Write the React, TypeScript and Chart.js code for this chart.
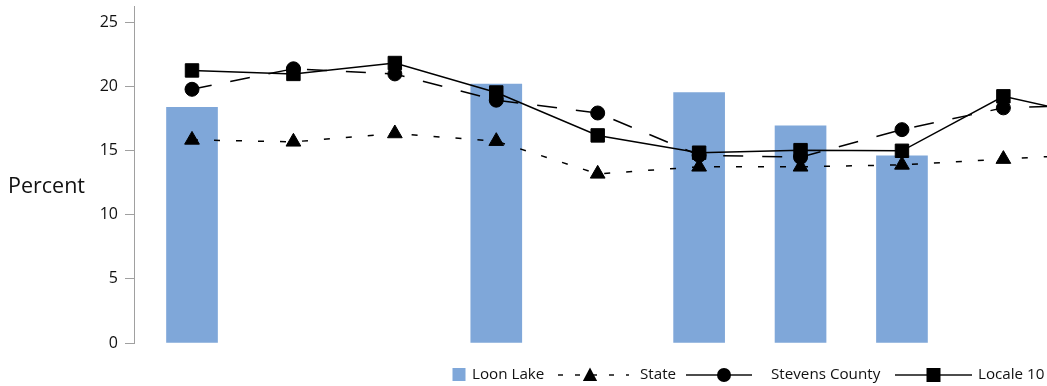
import React, { useEffect, useRef } from 'react';
import { Chart, registerables } from 'chart.js';

Chart.register(...registerables);

// Category positions (the reference shows no category labels)
const categories = ['1', '2', '3', '4', '5', '6', '7', '8', '9', '10'];
const seriesNames = ['Loon Lake', 'State', 'Stevens County', 'Locale 10'];
const loonLake = [18.4, null, null, 20.2, null, 19.55, 16.95, 14.6, null, null];
const state = [15.85, 15.7, 16.35, 15.75, 13.2, 13.75, 13.75, 13.9, 14.35, 14.8];
const stevensCounty = [19.8, 21.4, 21.0, 18.95, 17.95, 14.65, 14.5, 16.65, 18.35, 18.6];
const locale10 = [21.27, 21.0, 21.85, 19.55, 16.2, 14.85, 15.05, 15.0, 19.25, 17.5];
const yTicks = [0, 5, 10, 15, 20, 25];

const BAR_COLOR = '#7FA7D9';
const AXIS_COLOR = '#a0a0a0';
const FONT = '"Open Sans", "Noto Sans", sans-serif';

function toPoints(arr: (number | null)[]) {
  return categories.map((_, i) => ({ x: i, y: arr[i] }));
}

function drawMarker(ctx: CanvasRenderingContext2D, style: string, x: number, y: number, r: number) {
  ctx.beginPath();
  if (style === 'circle') {
    ctx.arc(x, y, r, 0, Math.PI * 2);
  } else if (style === 'rect') {
    ctx.rect(x - r, y - r, 2 * r, 2 * r);
  } else {
    ctx.moveTo(x, y - r);
    ctx.lineTo(x + r * 0.95, y + r * 0.8);
    ctx.lineTo(x - r * 0.95, y + r * 0.8);
    ctx.closePath();
  }
  ctx.fill();
}

const overlayPlugin = {
  id: 'overlay',
  afterDraw(chart: any) {
    const ctx: CanvasRenderingContext2D = chart.ctx;
    ctx.save();
    ctx.fillStyle = '#111';
    ctx.textAlign = 'left';
    ctx.textBaseline = 'middle';
    ctx.font = `21.5px ${FONT}`;
    ctx.fillText('Percent', 8, 187);

    const y = 375;
    ctx.font = `15.2px ${FONT}`;
    // Loon Lake
    ctx.fillStyle = BAR_COLOR;
    ctx.fillRect(452.5, 368, 13, 13);
    ctx.fillStyle = '#111';
    ctx.fillText(seriesNames[0], 472, y);

    // State
    ctx.strokeStyle = '#111';
    ctx.lineWidth = 1.5;
    ctx.setLineDash([5, 12]);
    ctx.beginPath();
    ctx.moveTo(558, y);
    ctx.lineTo(629, y);
    ctx.stroke();
    ctx.setLineDash([]);
    ctx.fillStyle = '#000';
    drawMarker(ctx, 'triangle', 590, y, 7.5);
    ctx.fillStyle = '#111';
    ctx.fillText(seriesNames[1], 640, y);

    // Stevens County
    ctx.beginPath();
    ctx.moveTo(686, y);
    ctx.lineTo(752, y);
    ctx.stroke();
    ctx.fillStyle = '#000';
    drawMarker(ctx, 'circle', 724, y, 7);
    ctx.fillStyle = '#111';
    ctx.fillText(seriesNames[2], 771, y);

    // Locale 10
    ctx.beginPath();
    ctx.moveTo(895, y);
    ctx.lineTo(972, y);
    ctx.stroke();
    ctx.fillStyle = '#000';
    drawMarker(ctx, 'rect', 933.5, y, 7);
    ctx.fillStyle = '#111';
    ctx.fillText(seriesNames[3], 978, y);
    ctx.restore();
  },
};

export default function App() {
  const canvasRef = useRef<HTMLCanvasElement | null>(null);

  useEffect(() => {
    if (!canvasRef.current) return;
    const chart = new Chart(canvasRef.current, {
      type: 'bar',
      data: {
        datasets: [
          {
            type: 'line',
            label: seriesNames[3],
            data: toPoints(locale10),
            borderColor: '#000',
            borderWidth: 1.5,
            pointStyle: 'rect',
            pointRadius: 9.5,
            pointBackgroundColor: '#000',
            pointBorderColor: '#000',
            pointBorderWidth: 1,
            tension: 0,
            order: 1,
          },
          {
            type: 'line',
            label: seriesNames[2],
            data: toPoints(stevensCounty),
            borderColor: '#000',
            borderWidth: 1.5,
            borderDash: [20, 19],
            pointStyle: 'circle',
            pointRadius: 7,
            pointBackgroundColor: '#000',
            pointBorderColor: '#000',
            pointBorderWidth: 1,
            tension: 0,
            order: 2,
          },
          {
            type: 'line',
            label: seriesNames[1],
            data: toPoints(state),
            borderColor: '#000',
            borderWidth: 1.5,
            borderDash: [6, 16],
            pointStyle: 'triangle',
            pointRadius: 8.5,
            pointBackgroundColor: '#000',
            pointBorderColor: '#000',
            pointBorderWidth: 1,
            tension: 0,
            order: 3,
          },
          {
            type: 'bar',
            label: seriesNames[0],
            data: toPoints(loonLake),
            backgroundColor: BAR_COLOR,
            borderWidth: 0,
            barThickness: 51,
            order: 10,
          },
        ] as any,
      },
      options: {
        animation: false,
        responsive: true,
        maintainAspectRatio: false,
        devicePixelRatio: 1,
        layout: { autoPadding: false, padding: { top: 6, bottom: 43, left: 0, right: 0 } },
        plugins: {
          legend: { display: false },
          tooltip: { enabled: false },
        },
        scales: {
          x: {
            type: 'linear',
            display: false,
            offset: false,
            min: -0.572,
            max: 8.43,
          },
          y: {
            type: 'linear',
            position: 'left',
            min: 0,
            max: 26.3,
            afterBuildTicks: (s: any) => {
              s.ticks = yTicks.map((v) => ({ value: v }));
            },
            afterFit: (s: any) => {
              s.width = 134;
              s.paddingTop = 0;
              s.paddingBottom = 0;
            },
            grid: {
              drawOnChartArea: false,
              drawTicks: true,
              tickLength: 9,
              color: AXIS_COLOR,
              lineWidth: 1,
            },
            border: { display: true, color: AXIS_COLOR, width: 1 },
            ticks: {
              padding: 7,
              color: '#111',
              font: { family: FONT, size: 16 },
            },
          },
        },
      } as any,
      plugins: [overlayPlugin],
    });
    return () => chart.destroy();
  }, []);

  return (
    <div style={{ position: 'fixed', left: 0, top: 0, width: 1047, height: 386, background: '#fff' }}>
      <canvas ref={canvasRef} />
    </div>
  );
}
